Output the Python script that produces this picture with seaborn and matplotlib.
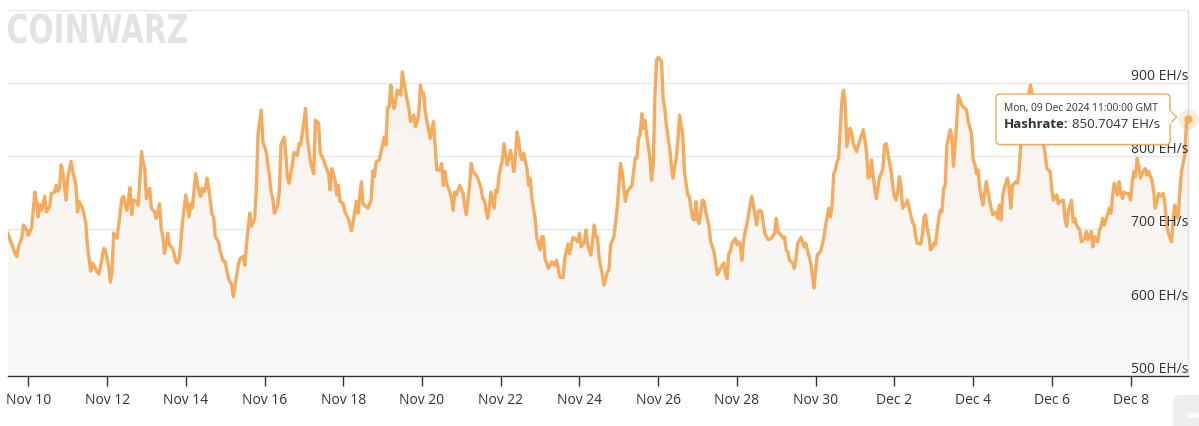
"""
Bitcoin network hashrate, last 30 days (CoinWarz style chart)
"""

import pandas as pd
import numpy as np
import matplotlib
matplotlib.use('Agg')
import matplotlib.pyplot as plt
import matplotlib.dates as mdates
from matplotlib.transforms import IdentityTransform, Affine2D, offset_copy
from matplotlib.patches import FancyBboxPatch, Polygon, PathPatch
from matplotlib.textpath import TextPath
from matplotlib.font_manager import FontProperties
import seaborn as sns

# ── Data ───────────────────────────────────────────────────────────────────
START = '2024-11-09 11:00'   # hour 0

hours = [
    0, 5, 6, 7, 9, 10, 12, 13, 15, 17, 18, 19, 20, 21, 23, 24, 26, 27, 29, 30,
    31, 32, 33, 34, 36, 37, 39, 40, 42, 43, 44, 46, 48, 49, 51, 52, 53, 55, 56, 57,
    59, 60, 62, 63, 64, 65, 66, 67, 68, 70, 71, 73, 74, 75, 76, 77, 79, 80, 82, 83,
    84, 85, 87, 88, 90, 91, 93, 94, 95, 96, 98, 99, 101, 103, 104, 105, 107, 109, 111, 112,
    113, 115, 117, 118, 119, 120, 121, 122, 123, 125, 126, 127, 129, 130, 132, 133, 135, 137, 138, 139,
    141, 142, 144, 145, 146, 148, 149, 151, 152, 153, 155, 156, 158, 160, 161, 162, 163, 165, 166, 167,
    169, 170, 171, 172, 174, 175, 177, 178, 179, 181, 182, 183, 185, 186, 187, 188, 190, 191, 193, 194,
    196, 197, 198, 200, 201, 202, 203, 205, 206, 208, 209, 210, 211, 213, 214, 216, 217, 219, 220, 222,
    223, 224, 225, 227, 228, 229, 230, 231, 232, 233, 234, 235, 236, 238, 240, 241, 243, 244, 245, 246,
    248, 249, 251, 252, 253, 254, 255, 257, 258, 260, 261, 262, 264, 265, 266, 267, 268, 270, 271, 272,
    273, 274, 276, 278, 279, 280, 282, 283, 284, 286, 287, 289, 290, 291, 293, 294, 295, 297, 298, 299,
    300, 302, 303, 305, 306, 307, 308, 309, 310, 311, 312, 313, 314, 315, 317, 318, 319, 320, 322, 323,
    325, 326, 327, 328, 330, 331, 332, 334, 335, 336, 337, 339, 340, 342, 343, 345, 346, 348, 349, 350,
    352, 353, 354, 356, 358, 359, 360, 361, 363, 364, 365, 366, 367, 368, 370, 371, 372, 373, 374, 375,
    377, 378, 379, 381, 382, 383, 384, 385, 386, 387, 388, 389, 390, 392, 393, 394, 395, 396, 397, 399,
    400, 401, 402, 404, 405, 406, 408, 409, 410, 412, 413, 415, 416, 417, 418, 419, 420, 421, 422, 424,
    425, 426, 428, 429, 431, 432, 433, 435, 436, 437, 438, 439, 440, 441, 442, 444, 445, 446, 447, 448,
    449, 450, 451, 453, 454, 455, 457, 458, 459, 460, 462, 463, 464, 466, 468, 469, 470, 472, 473, 474,
    475, 476, 477, 479, 480, 481, 482, 484, 485, 486, 487, 488, 490, 491, 492, 493, 494, 496, 497, 498,
    499, 501, 502, 503, 504, 505, 506, 507, 508, 509, 510, 511, 512, 514, 515, 516, 518, 519, 520, 522,
    523, 524, 525, 526, 527, 528, 529, 530, 532, 533, 534, 535, 536, 538, 539, 540, 541, 542, 543, 544,
    545, 546, 548, 549, 550, 552, 553, 554, 555, 557, 558, 559, 560, 561, 562, 563, 564, 565, 566, 567,
    568, 569, 570, 571, 572, 573, 575, 576, 577, 578, 579, 580, 582, 583, 585, 586, 588, 589, 590, 591,
    592, 593, 595, 596, 597, 599, 600, 601, 603, 604, 605, 606, 607, 608, 610, 611, 612, 613, 615, 616,
    617, 618, 621, 624, 628, 632, 633, 634, 636, 637, 638, 640, 641, 642, 644, 645, 646, 647, 649, 650,
    651, 652, 654, 655, 657, 658, 659, 661, 662, 663, 665, 666, 667, 668, 669, 671, 672, 673, 674, 675,
    677, 678, 679, 680, 681, 682, 684, 685, 686, 687, 688, 689, 690, 691, 693, 694, 695, 696, 698, 699,
    700, 701, 702, 703, 705, 706, 707, 708, 710, 711, 712, 713, 714, 715, 716, 718, 719, 720,
]

hashrate = [
    697, 667, 663, 676, 688, 706, 699, 692, 702, 751, 738, 717, 734, 726, 745, 724, 731, 749, 751, 760,
    752, 756, 788, 779, 740, 770, 793, 781, 760, 724, 738, 729, 710, 679, 643, 654, 651, 642, 639, 649,
    674, 672, 649, 628, 642, 695, 690, 688, 704, 742, 745, 726, 740, 757, 720, 740, 738, 733, 806, 792,
    783, 742, 756, 729, 724, 715, 735, 701, 690, 667, 695, 679, 674, 656, 654, 660, 710, 747, 717, 735,
    729, 776, 751, 745, 756, 751, 756, 770, 756, 720, 717, 690, 683, 670, 656, 656, 633, 624, 608, 624,
    651, 660, 663, 651, 679, 722, 704, 715, 756, 829, 863, 820, 806, 774, 751, 742, 722, 733, 751, 815,
    826, 801, 770, 763, 790, 805, 801, 817, 815, 847, 865, 826, 792, 783, 776, 849, 845, 804, 795, 788,
    776, 754, 783, 767, 747, 760, 738, 735, 724, 715, 708, 698, 710, 738, 722, 765, 735, 731, 729, 740,
    780, 772, 792, 795, 806, 815, 826, 815, 866, 867, 897, 875, 865, 890, 883, 915, 888, 876, 865, 847,
    856, 840, 856, 897, 883, 886, 860, 836, 824, 847, 815, 781, 781, 790, 760, 779, 763, 751, 742, 726,
    751, 747, 760, 749, 733, 720, 760, 790, 779, 774, 770, 756, 742, 740, 715, 729, 751, 729, 754, 751,
    774, 795, 817, 788, 797, 808, 795, 779, 801, 833, 820, 801, 795, 804, 783, 760, 770, 742, 715, 688,
    672, 690, 690, 660, 647, 651, 656, 651, 658, 647, 635, 634, 660, 680, 667, 689, 688, 683, 695, 676,
    683, 699, 679, 665, 706, 690, 690, 660, 638, 624, 633, 642, 645, 679, 690, 710, 729, 760, 790, 779,
    738, 751, 754, 760, 779, 797, 797, 824, 829, 858, 838, 849, 829, 797, 767, 790, 883, 931, 935, 929,
    879, 865, 842, 811, 788, 770, 797, 820, 856, 829, 779, 747, 745, 729, 715, 713, 738, 713, 708, 740,
    738, 724, 704, 683, 670, 656, 638, 647, 651, 654, 640, 633, 667, 670, 681, 688, 679, 683, 679, 658,
    683, 697, 706, 733, 745, 733, 706, 724, 726, 724, 695, 690, 686, 688, 695, 715, 697, 692, 688, 690,
    672, 670, 658, 654, 647, 660, 681, 689, 683, 676, 681, 672, 654, 638, 620, 645, 665, 670, 679, 689,
    704, 729, 717, 733, 776, 781, 792, 797, 838, 876, 890, 872, 813, 838, 831, 817, 806, 815, 822, 836,
    822, 806, 770, 772, 795, 774, 756, 742, 772, 776, 783, 815, 817, 792, 779, 760, 745, 740, 751, 772,
    760, 729, 735, 740, 729, 710, 706, 690, 681, 680, 692, 717, 720, 701, 692, 672, 674, 681, 679, 697,
    715, 726, 724, 756, 760, 815, 836, 826, 786, 813, 849, 883, 870, 867, 863, 847, 831, 795, 790, 776,
    781, 756, 733, 749, 765, 740, 729, 720, 724, 715, 733, 713, 745, 756, 770, 756, 729, 760, 765, 763,
    779, 815, 862, 897, 850, 815, 801, 783, 779, 754, 740, 747, 735, 738, 740, 715, 704, 724, 740, 710,
    715, 706, 699, 683, 688, 697, 686, 697, 676, 690, 683, 699, 704, 715, 706, 720, 729, 722, 745, 763,
    747, 765, 751, 742, 751, 749, 749, 740, 765, 779, 772, 797, 786, 770, 781, 783, 774, 779, 767, 754,
    729, 738, 749, 745, 749, 733, 706, 695, 683, 715, 733, 720, 715, 751, 779, 801, 842, 850.7047,
]

tick_dates = ['2024-11-10', '2024-11-12', '2024-11-14', '2024-11-16', '2024-11-18',
              '2024-11-20', '2024-11-22', '2024-11-24', '2024-11-26', '2024-11-28',
              '2024-11-30', '2024-12-02', '2024-12-04', '2024-12-06', '2024-12-08']
grid_values  = [600, 700, 800, 900, 1000]
label_values = [500, 600, 700, 800, 900]
tooltip_date = 'Mon, 09 Dec 2024 11:00:00 GMT'

# ── Style ──────────────────────────────────────────────────────────────────
W, H = 1199, 426
LINE = '#f5ab5e'
TXT = '#333333'

sns.set_theme(style='white')
plt.rcParams['font.family'] = ['Open Sans', 'DejaVu Sans']

df = pd.DataFrame({
    'time': pd.Timestamp(START) + pd.to_timedelta(hours, unit='h'),
    'hashrate': hashrate,
})

fig = plt.figure(figsize=(W / 100, H / 100), dpi=100)
fig.patch.set_facecolor('white')
ax = fig.add_axes([8 / W, 50 / H, 1180 / W, 366.5 / H])
ax.set_facecolor('white')

t0 = pd.Timestamp(START)
ax.set_xlim(t0 + pd.Timedelta(hours=0.6), t0 + pd.Timedelta(hours=720))
ax.set_ylim(500, 1000)

# area fill with a soft vertical gradient, clipped to the area under the line
fill = ax.fill_between(df['time'], df['hashrate'], 500, color='none', lw=0)
top_c = np.array([250, 242, 234]) / 255
bot_c = np.array([248, 248, 248]) / 255
grad = np.linspace(0, 1, 256)[:, None, None] * (top_c - bot_c) + bot_c
tnum = mdates.date2num(df['time'])
im = ax.imshow(grad, extent=[tnum[0], tnum[-1], 500, 1000], origin='lower',
               aspect='auto', zorder=1, interpolation='bilinear')
im.set_clip_path(fill.get_paths()[0], ax.transData)
ax.set_xlim(t0 + pd.Timedelta(hours=0.6), t0 + pd.Timedelta(hours=720))
ax.set_ylim(500, 1000)

sns.lineplot(data=df, x='time', y='hashrate', color=LINE, linewidth=2.4,
             ax=ax, zorder=3, solid_joinstyle='round')

# grid + axis
ax.set_yticks(grid_values)
ax.yaxis.grid(True, color='#e6e6e6', linewidth=1)
ax.tick_params(axis='y', left=False, labelleft=False)
ax.set_axisbelow(True)
for s in ['top', 'left', 'right']:
    ax.spines[s].set_visible(False)
ax.spines['bottom'].set_color(TXT)
ax.spines['bottom'].set_linewidth(1)

ticks = pd.to_datetime(tick_dates)
ax.set_xticks(ticks.to_pydatetime())
ax.set_xticklabels([f'{d:%b} {d.day}' for d in ticks])
ax.tick_params(axis='x', bottom=True, direction='out', length=7, width=1,
               color=TXT, labelsize=10, labelcolor=TXT, pad=5)
ax.set_xlabel('')
ax.set_ylabel('')

# y labels sit inside the plot, right aligned above each grid line
lab_tr = offset_copy(ax.get_yaxis_transform(), fig=fig, y=3, units='dots')
for v in label_values:
    ax.text(1.0, v, f'{v} EH/s', transform=lab_tr, ha='right', va='baseline',
            fontsize=10, color=TXT, zorder=6)

# hovered point: crosshair, halo and marker
last_t, last_v = df['time'].iloc[-1], df['hashrate'].iloc[-1]
ax.axvline(last_t, color='#dedede', lw=1, zorder=2, clip_on=False)
ax.scatter([last_t], [last_v], s=210, color=LINE, alpha=0.25, lw=0, zorder=5, clip_on=False)
ax.scatter([last_t], [last_v], s=34, color=LINE, lw=0, zorder=6, clip_on=False)

# ── Tooltip (pixel coordinates) ────────────────────────────────────────────
px = IdentityTransform()
bx0, by0, bx1, by1 = 996, H - 144.5, 1170, H - 94
shadow = FancyBboxPatch((bx0 + 1.5, by0 - 1.5), bx1 - bx0, by1 - by0,
                        boxstyle='round,pad=0,rounding_size=4', transform=px,
                        facecolor='black', edgecolor='none', alpha=0.08, zorder=4)
box = FancyBboxPatch((bx0, by0), bx1 - bx0, by1 - by0,
                     boxstyle='round,pad=0,rounding_size=4', transform=px,
                     facecolor='white', edgecolor=LINE, lw=1, zorder=5)
arrow = Polygon([(bx1 - 0.5, H - 110.5), (1177, H - 117), (bx1 - 0.5, H - 123.5)],
                closed=True, transform=px, facecolor='white', edgecolor=LINE,
                lw=1, zorder=5)
fig.add_artist(shadow)
fig.add_artist(box)
fig.add_artist(arrow)
fig.add_artist(plt.Line2D([bx1, bx1], [H - 111.5, H - 122.5], transform=px,
                          color='white', lw=1.6, zorder=5.5))

fig.text(1004, H - 111.5, tooltip_date, transform=px, fontsize=7.4, color=TXT,
         va='baseline', ha='left', zorder=6)
t_lab = fig.text(1004, H - 128.5, 'Hashrate:', transform=px, fontsize=9.5,
                 fontweight='bold', color=TXT, va='baseline', ha='left', zorder=6)
fig.canvas.draw()
bb = t_lab.get_window_extent()
fig.text(bb.x1 + 3.5, H - 128.5, f'{last_v:.4f} EH/s', transform=px, fontsize=9.5,
         color=TXT, va='baseline', ha='left', zorder=6)

# ── Watermark logo ────────────────────────────────────────────────────────
tp = TextPath((0, 0), 'COINWARZ', size=40,
              prop=FontProperties(family='DejaVu Sans', weight='bold'))
ext = tp.get_extents()
logo_tr = (Affine2D().translate(-ext.x0, -ext.y0)
           .scale(179 / ext.width, 30 / ext.height)
           .translate(8, H - 43.5))
fig.add_artist(PathPatch(logo_tr.transform_path(tp), transform=px,
                         facecolor='#e3e3e3', edgecolor='none', zorder=0.5))

# grey button peeking in at the bottom right corner
fig.add_artist(FancyBboxPatch((1173, -12), 45, 43, boxstyle='round,pad=0,rounding_size=7',
                              transform=px, facecolor='#eeeeee', edgecolor='none'))
fig.add_artist(FancyBboxPatch((1188, 8), 14, 5, boxstyle='round,pad=0,rounding_size=1',
                              transform=px, facecolor='#fbfbfb', edgecolor='none'))

fig.savefig('out.png', dpi=100, facecolor='white')
plt.close()
